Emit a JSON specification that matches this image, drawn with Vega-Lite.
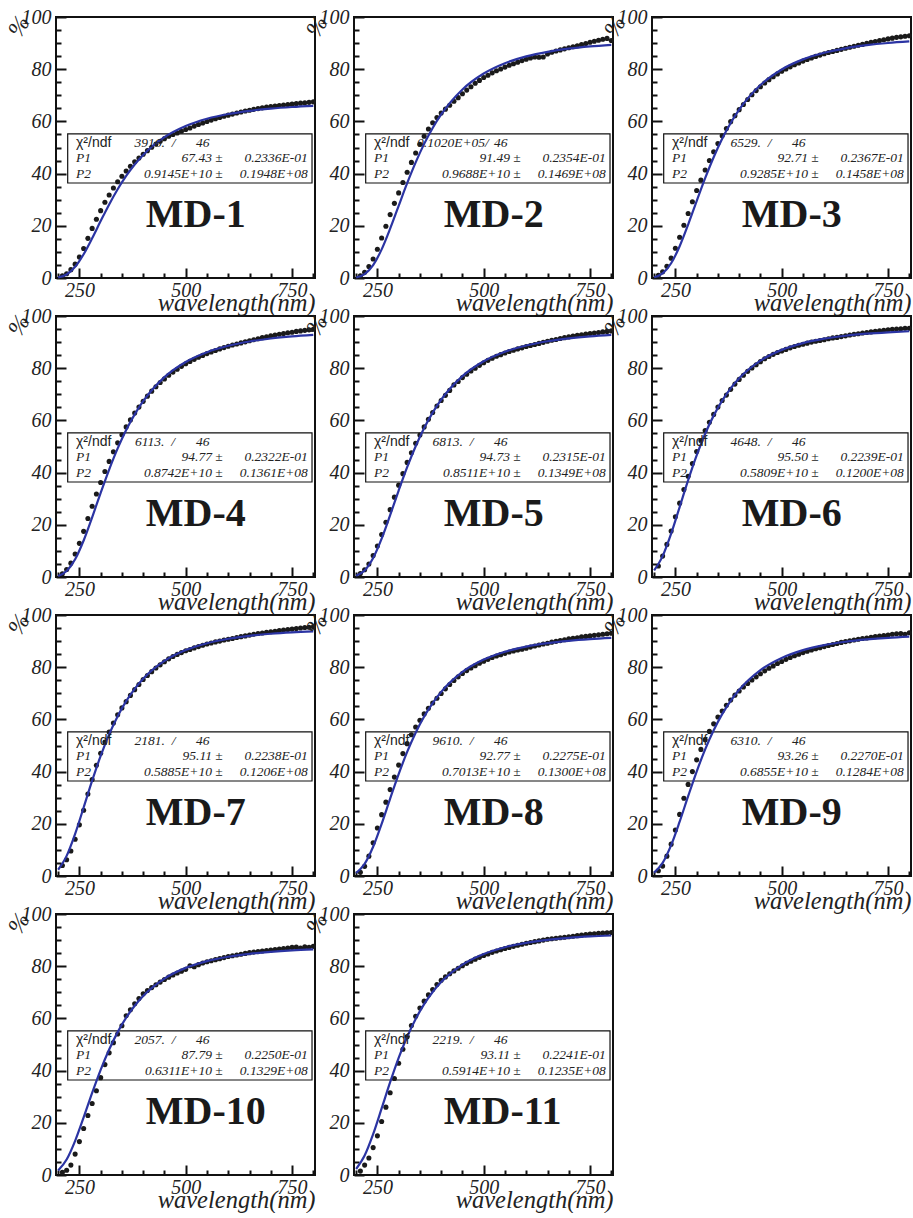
{
"$schema": "https://vega.github.io/schema/vega-lite/v6.json",
"background": "white",
"padding": {"left": 2, "top": 5, "right": 0, "bottom": 0},
"bounds": "flush",
"spacing": {"row": 38, "column": 39},
"columns": 3,
"config": {
  "view": {"stroke": "#111", "strokeWidth": 2},
  "header": {"labels": false, "title": null, "labelExpr": "''", "labelFontSize": 1, "labelPadding": 0, "titlePadding": 0},
  "axis": {"grid": false, "domain": false, "tickColor": "#111", "tickWidth": 2, "labelFont": "Liberation Serif", "labelFontStyle": "italic", "labelFontSize": 20, "labelColor": "#222", "titleColor": "#222", "labelFlush": false, "labelOverlap": false}
},
"data": {"values": [
{"m":"MD-1","k":"i","c":"3916.\u00a0\u00a0/","p1":"67.43 ±","e1":"0.2336E-01","p2":"0.9145E+10 ±","e2":"0.1948E+08"},
{"m":"MD-2","k":"i","c":"0.1020E+05/","p1":"91.49 ±","e1":"0.2354E-01","p2":"0.9688E+10 ±","e2":"0.1469E+08"},
{"m":"MD-3","k":"i","c":"6529.\u00a0\u00a0/","p1":"92.71 ±","e1":"0.2367E-01","p2":"0.9285E+10 ±","e2":"0.1458E+08"},
{"m":"MD-4","k":"i","c":"6113.\u00a0\u00a0/","p1":"94.77 ±","e1":"0.2322E-01","p2":"0.8742E+10 ±","e2":"0.1361E+08"},
{"m":"MD-5","k":"i","c":"6813.\u00a0\u00a0/","p1":"94.73 ±","e1":"0.2315E-01","p2":"0.8511E+10 ±","e2":"0.1349E+08"},
{"m":"MD-6","k":"i","c":"4648.\u00a0\u00a0/","p1":"95.50 ±","e1":"0.2239E-01","p2":"0.5809E+10 ±","e2":"0.1200E+08"},
{"m":"MD-7","k":"i","c":"2181.\u00a0\u00a0/","p1":"95.11 ±","e1":"0.2238E-01","p2":"0.5885E+10 ±","e2":"0.1206E+08"},
{"m":"MD-8","k":"i","c":"9610.\u00a0\u00a0/","p1":"92.77 ±","e1":"0.2275E-01","p2":"0.7013E+10 ±","e2":"0.1300E+08"},
{"m":"MD-9","k":"i","c":"6310.\u00a0\u00a0/","p1":"93.26 ±","e1":"0.2270E-01","p2":"0.6855E+10 ±","e2":"0.1284E+08"},
{"m":"MD-10","k":"i","c":"2057.\u00a0\u00a0/","p1":"87.79 ±","e1":"0.2250E-01","p2":"0.6311E+10 ±","e2":"0.1329E+08"},
{"m":"MD-11","k":"i","c":"2219.\u00a0\u00a0/","p1":"93.11 ±","e1":"0.2241E-01","p2":"0.5914E+10 ±","e2":"0.1235E+08"},

{"m":"MD-1","k":"f","w":200,"t":0.22},{"m":"MD-1","k":"f","w":220,"t":1.36},{"m":"MD-1","k":"f","w":240,"t":4.28},{"m":"MD-1","k":"f","w":260,"t":9.12},{"m":"MD-1","k":"f","w":280,"t":15.23},{"m":"MD-1","k":"f","w":300,"t":21.80},{"m":"MD-1","k":"f","w":320,"t":28.19},{"m":"MD-1","k":"f","w":340,"t":34.01},{"m":"MD-1","k":"f","w":360,"t":39.12},{"m":"MD-1","k":"f","w":380,"t":43.49},{"m":"MD-1","k":"f","w":400,"t":47.17},{"m":"MD-1","k":"f","w":450,"t":53.95},{"m":"MD-1","k":"f","w":500,"t":58.25},{"m":"MD-1","k":"f","w":550,"t":61.02},{"m":"MD-1","k":"f","w":600,"t":62.84},{"m":"MD-1","k":"f","w":650,"t":64.06},{"m":"MD-1","k":"f","w":700,"t":64.91},{"m":"MD-1","k":"f","w":750,"t":65.51},{"m":"MD-1","k":"f","w":800,"t":65.94},
{"m":"MD-2","k":"f","w":200,"t":0.21},{"m":"MD-2","k":"f","w":220,"t":1.46},{"m":"MD-2","k":"f","w":240,"t":4.93},{"m":"MD-2","k":"f","w":260,"t":10.98},{"m":"MD-2","k":"f","w":280,"t":18.92},{"m":"MD-2","k":"f","w":300,"t":27.66},{"m":"MD-2","k":"f","w":320,"t":36.32},{"m":"MD-2","k":"f","w":340,"t":44.31},{"m":"MD-2","k":"f","w":360,"t":51.39},{"m":"MD-2","k":"f","w":380,"t":57.49},{"m":"MD-2","k":"f","w":400,"t":62.66},{"m":"MD-2","k":"f","w":450,"t":72.24},{"m":"MD-2","k":"f","w":500,"t":78.35},{"m":"MD-2","k":"f","w":550,"t":82.30},{"m":"MD-2","k":"f","w":600,"t":84.90},{"m":"MD-2","k":"f","w":650,"t":86.66},{"m":"MD-2","k":"f","w":700,"t":87.87},{"m":"MD-2","k":"f","w":750,"t":88.73},{"m":"MD-2","k":"f","w":800,"t":89.35},
{"m":"MD-3","k":"f","w":200,"t":0.28},{"m":"MD-3","k":"f","w":220,"t":1.76},{"m":"MD-3","k":"f","w":240,"t":5.65},{"m":"MD-3","k":"f","w":260,"t":12.15},{"m":"MD-3","k":"f","w":280,"t":20.47},{"m":"MD-3","k":"f","w":300,"t":29.46},{"m":"MD-3","k":"f","w":320,"t":38.25},{"m":"MD-3","k":"f","w":340,"t":46.28},{"m":"MD-3","k":"f","w":360,"t":53.34},{"m":"MD-3","k":"f","w":380,"t":59.39},{"m":"MD-3","k":"f","w":400,"t":64.51},{"m":"MD-3","k":"f","w":450,"t":73.93},{"m":"MD-3","k":"f","w":500,"t":79.91},{"m":"MD-3","k":"f","w":550,"t":83.76},{"m":"MD-3","k":"f","w":600,"t":86.30},{"m":"MD-3","k":"f","w":650,"t":88.01},{"m":"MD-3","k":"f","w":700,"t":89.19},{"m":"MD-3","k":"f","w":750,"t":90.03},{"m":"MD-3","k":"f","w":800,"t":90.63},
{"m":"MD-4","k":"f","w":200,"t":0.40},{"m":"MD-4","k":"f","w":220,"t":2.27},{"m":"MD-4","k":"f","w":240,"t":6.80},{"m":"MD-4","k":"f","w":260,"t":13.99},{"m":"MD-4","k":"f","w":280,"t":22.86},{"m":"MD-4","k":"f","w":300,"t":32.21},{"m":"MD-4","k":"f","w":320,"t":41.17},{"m":"MD-4","k":"f","w":340,"t":49.27},{"m":"MD-4","k":"f","w":360,"t":56.32},{"m":"MD-4","k":"f","w":380,"t":62.32},{"m":"MD-4","k":"f","w":400,"t":67.35},{"m":"MD-4","k":"f","w":450,"t":76.58},{"m":"MD-4","k":"f","w":500,"t":82.40},{"m":"MD-4","k":"f","w":550,"t":86.14},{"m":"MD-4","k":"f","w":600,"t":88.59},{"m":"MD-4","k":"f","w":650,"t":90.24},{"m":"MD-4","k":"f","w":700,"t":91.38},{"m":"MD-4","k":"f","w":750,"t":92.19},{"m":"MD-4","k":"f","w":800,"t":92.77},
{"m":"MD-5","k":"f","w":200,"t":0.46},{"m":"MD-5","k":"f","w":220,"t":2.50},{"m":"MD-5","k":"f","w":240,"t":7.28},{"m":"MD-5","k":"f","w":260,"t":14.71},{"m":"MD-5","k":"f","w":280,"t":23.72},{"m":"MD-5","k":"f","w":300,"t":33.12},{"m":"MD-5","k":"f","w":320,"t":42.07},{"m":"MD-5","k":"f","w":340,"t":50.11},{"m":"MD-5","k":"f","w":360,"t":57.07},{"m":"MD-5","k":"f","w":380,"t":62.98},{"m":"MD-5","k":"f","w":400,"t":67.94},{"m":"MD-5","k":"f","w":450,"t":76.97},{"m":"MD-5","k":"f","w":500,"t":82.67},{"m":"MD-5","k":"f","w":550,"t":86.32},{"m":"MD-5","k":"f","w":600,"t":88.71},{"m":"MD-5","k":"f","w":650,"t":90.32},{"m":"MD-5","k":"f","w":700,"t":91.43},{"m":"MD-5","k":"f","w":750,"t":92.22},{"m":"MD-5","k":"f","w":800,"t":92.78},
{"m":"MD-6","k":"f","w":200,"t":2.53},{"m":"MD-6","k":"f","w":220,"t":8.00},{"m":"MD-6","k":"f","w":240,"t":16.58},{"m":"MD-6","k":"f","w":260,"t":26.79},{"m":"MD-6","k":"f","w":280,"t":37.12},{"m":"MD-6","k":"f","w":300,"t":46.62},{"m":"MD-6","k":"f","w":320,"t":54.88},{"m":"MD-6","k":"f","w":340,"t":61.83},{"m":"MD-6","k":"f","w":360,"t":67.58},{"m":"MD-6","k":"f","w":380,"t":72.28},{"m":"MD-6","k":"f","w":400,"t":76.11},{"m":"MD-6","k":"f","w":450,"t":82.89},{"m":"MD-6","k":"f","w":500,"t":87.02},{"m":"MD-6","k":"f","w":550,"t":89.63},{"m":"MD-6","k":"f","w":600,"t":91.31},{"m":"MD-6","k":"f","w":650,"t":92.44},{"m":"MD-6","k":"f","w":700,"t":93.22},{"m":"MD-6","k":"f","w":750,"t":93.76},{"m":"MD-6","k":"f","w":800,"t":94.16},
{"m":"MD-7","k":"f","w":200,"t":2.40},{"m":"MD-7","k":"f","w":220,"t":7.71},{"m":"MD-7","k":"f","w":240,"t":16.14},{"m":"MD-7","k":"f","w":260,"t":26.24},{"m":"MD-7","k":"f","w":280,"t":36.51},{"m":"MD-7","k":"f","w":300,"t":45.99},{"m":"MD-7","k":"f","w":320,"t":54.26},{"m":"MD-7","k":"f","w":340,"t":61.23},{"m":"MD-7","k":"f","w":360,"t":67.00},{"m":"MD-7","k":"f","w":380,"t":71.72},{"m":"MD-7","k":"f","w":400,"t":75.58},{"m":"MD-7","k":"f","w":450,"t":82.40},{"m":"MD-7","k":"f","w":500,"t":86.56},{"m":"MD-7","k":"f","w":550,"t":89.19},{"m":"MD-7","k":"f","w":600,"t":90.89},{"m":"MD-7","k":"f","w":650,"t":92.03},{"m":"MD-7","k":"f","w":700,"t":92.81},{"m":"MD-7","k":"f","w":750,"t":93.36},{"m":"MD-7","k":"f","w":800,"t":93.75},
{"m":"MD-8","k":"f","w":200,"t":1.16},{"m":"MD-8","k":"f","w":220,"t":4.65},{"m":"MD-8","k":"f","w":240,"t":11.20},{"m":"MD-8","k":"f","w":260,"t":19.99},{"m":"MD-8","k":"f","w":280,"t":29.64},{"m":"MD-8","k":"f","w":300,"t":39.03},{"m":"MD-8","k":"f","w":320,"t":47.53},{"m":"MD-8","k":"f","w":340,"t":54.89},{"m":"MD-8","k":"f","w":360,"t":61.11},{"m":"MD-8","k":"f","w":380,"t":66.27},{"m":"MD-8","k":"f","w":400,"t":70.54},{"m":"MD-8","k":"f","w":450,"t":78.19},{"m":"MD-8","k":"f","w":500,"t":82.92},{"m":"MD-8","k":"f","w":550,"t":85.93},{"m":"MD-8","k":"f","w":600,"t":87.88},{"m":"MD-8","k":"f","w":650,"t":89.20},{"m":"MD-8","k":"f","w":700,"t":90.10},{"m":"MD-8","k":"f","w":750,"t":90.74},{"m":"MD-8","k":"f","w":800,"t":91.20},
{"m":"MD-9","k":"f","w":200,"t":1.29},{"m":"MD-9","k":"f","w":220,"t":5.00},{"m":"MD-9","k":"f","w":240,"t":11.81},{"m":"MD-9","k":"f","w":260,"t":20.81},{"m":"MD-9","k":"f","w":280,"t":30.57},{"m":"MD-9","k":"f","w":300,"t":40.01},{"m":"MD-9","k":"f","w":320,"t":48.50},{"m":"MD-9","k":"f","w":340,"t":55.84},{"m":"MD-9","k":"f","w":360,"t":62.01},{"m":"MD-9","k":"f","w":380,"t":67.13},{"m":"MD-9","k":"f","w":400,"t":71.35},{"m":"MD-9","k":"f","w":450,"t":78.90},{"m":"MD-9","k":"f","w":500,"t":83.57},{"m":"MD-9","k":"f","w":550,"t":86.53},{"m":"MD-9","k":"f","w":600,"t":88.46},{"m":"MD-9","k":"f","w":650,"t":89.75},{"m":"MD-9","k":"f","w":700,"t":90.63},{"m":"MD-9","k":"f","w":750,"t":91.26},{"m":"MD-9","k":"f","w":800,"t":91.71},
{"m":"MD-10","k":"f","w":200,"t":1.70},{"m":"MD-10","k":"f","w":220,"t":5.94},{"m":"MD-10","k":"f","w":240,"t":13.10},{"m":"MD-10","k":"f","w":260,"t":22.06},{"m":"MD-10","k":"f","w":280,"t":31.45},{"m":"MD-10","k":"f","w":300,"t":40.28},{"m":"MD-10","k":"f","w":320,"t":48.09},{"m":"MD-10","k":"f","w":340,"t":54.74},{"m":"MD-10","k":"f","w":360,"t":60.29},{"m":"MD-10","k":"f","w":380,"t":64.86},{"m":"MD-10","k":"f","w":400,"t":68.61},{"m":"MD-10","k":"f","w":450,"t":75.27},{"m":"MD-10","k":"f","w":500,"t":79.36},{"m":"MD-10","k":"f","w":550,"t":81.94},{"m":"MD-10","k":"f","w":600,"t":83.62},{"m":"MD-10","k":"f","w":650,"t":84.74},{"m":"MD-10","k":"f","w":700,"t":85.51},{"m":"MD-10","k":"f","w":750,"t":86.06},{"m":"MD-10","k":"f","w":800,"t":86.45},
{"m":"MD-11","k":"f","w":200,"t":2.31},{"m":"MD-11","k":"f","w":220,"t":7.46},{"m":"MD-11","k":"f","w":240,"t":15.66},{"m":"MD-11","k":"f","w":260,"t":25.52},{"m":"MD-11","k":"f","w":280,"t":35.57},{"m":"MD-11","k":"f","w":300,"t":44.86},{"m":"MD-11","k":"f","w":320,"t":52.97},{"m":"MD-11","k":"f","w":340,"t":59.81},{"m":"MD-11","k":"f","w":360,"t":65.48},{"m":"MD-11","k":"f","w":380,"t":70.12},{"m":"MD-11","k":"f","w":400,"t":73.90},{"m":"MD-11","k":"f","w":450,"t":80.60},{"m":"MD-11","k":"f","w":500,"t":84.70},{"m":"MD-11","k":"f","w":550,"t":87.28},{"m":"MD-11","k":"f","w":600,"t":88.96},{"m":"MD-11","k":"f","w":650,"t":90.08},{"m":"MD-11","k":"f","w":700,"t":90.85},{"m":"MD-11","k":"f","w":750,"t":91.39},{"m":"MD-11","k":"f","w":800,"t":91.77},

{"m":"MD-1","k":"d","w":210,"t":0.8},{"m":"MD-1","k":"d","w":220,"t":1.6},{"m":"MD-1","k":"d","w":230,"t":3.2},{"m":"MD-1","k":"d","w":240,"t":5.3},{"m":"MD-1","k":"d","w":250,"t":8.0},{"m":"MD-1","k":"d","w":260,"t":11.3},{"m":"MD-1","k":"d","w":270,"t":15.2},{"m":"MD-1","k":"d","w":280,"t":19.0},{"m":"MD-1","k":"d","w":290,"t":22.5},{"m":"MD-1","k":"d","w":300,"t":25.8},
{"m":"MD-1","k":"d","w":310,"t":29.0},{"m":"MD-1","k":"d","w":320,"t":31.8},{"m":"MD-1","k":"d","w":330,"t":34.5},{"m":"MD-1","k":"d","w":340,"t":36.9},{"m":"MD-1","k":"d","w":350,"t":39.0},{"m":"MD-1","k":"d","w":360,"t":41.0},{"m":"MD-1","k":"d","w":370,"t":42.8},{"m":"MD-1","k":"d","w":380,"t":44.5},{"m":"MD-1","k":"d","w":390,"t":46.0},{"m":"MD-1","k":"d","w":400,"t":47.4},
{"m":"MD-1","k":"d","w":410,"t":48.8},{"m":"MD-1","k":"d","w":420,"t":50.1},{"m":"MD-1","k":"d","w":430,"t":51.3},{"m":"MD-1","k":"d","w":440,"t":52.4},{"m":"MD-1","k":"d","w":450,"t":53.4},{"m":"MD-1","k":"d","w":460,"t":54.3},{"m":"MD-1","k":"d","w":470,"t":55.0},{"m":"MD-1","k":"d","w":480,"t":55.6},{"m":"MD-1","k":"d","w":490,"t":56.2},{"m":"MD-1","k":"d","w":500,"t":56.9},
{"m":"MD-1","k":"d","w":510,"t":57.5},{"m":"MD-1","k":"d","w":520,"t":58.2},{"m":"MD-1","k":"d","w":530,"t":58.8},{"m":"MD-1","k":"d","w":540,"t":59.4},{"m":"MD-1","k":"d","w":550,"t":60.0},{"m":"MD-1","k":"d","w":560,"t":60.5},{"m":"MD-1","k":"d","w":570,"t":61.0},{"m":"MD-1","k":"d","w":580,"t":61.5},{"m":"MD-1","k":"d","w":590,"t":62.0},{"m":"MD-1","k":"d","w":600,"t":62.4},
{"m":"MD-1","k":"d","w":610,"t":62.8},{"m":"MD-1","k":"d","w":620,"t":63.2},{"m":"MD-1","k":"d","w":630,"t":63.6},{"m":"MD-1","k":"d","w":640,"t":64.0},{"m":"MD-1","k":"d","w":650,"t":64.3},{"m":"MD-1","k":"d","w":660,"t":64.6},{"m":"MD-1","k":"d","w":670,"t":64.9},{"m":"MD-1","k":"d","w":680,"t":65.2},{"m":"MD-1","k":"d","w":690,"t":65.5},{"m":"MD-1","k":"d","w":700,"t":65.7},
{"m":"MD-1","k":"d","w":710,"t":65.9},{"m":"MD-1","k":"d","w":720,"t":66.1},{"m":"MD-1","k":"d","w":730,"t":66.3},{"m":"MD-1","k":"d","w":740,"t":66.5},{"m":"MD-1","k":"d","w":750,"t":66.6},{"m":"MD-1","k":"d","w":760,"t":66.8},{"m":"MD-1","k":"d","w":770,"t":67.0},{"m":"MD-1","k":"d","w":780,"t":67.1},{"m":"MD-1","k":"d","w":790,"t":67.3},{"m":"MD-1","k":"d","w":800,"t":67.5},

{"m":"MD-2","k":"d","w":210,"t":0.8},{"m":"MD-2","k":"d","w":220,"t":2.2},{"m":"MD-2","k":"d","w":230,"t":4.4},{"m":"MD-2","k":"d","w":240,"t":7.3},{"m":"MD-2","k":"d","w":250,"t":11.0},{"m":"MD-2","k":"d","w":260,"t":15.3},{"m":"MD-2","k":"d","w":270,"t":19.8},{"m":"MD-2","k":"d","w":280,"t":24.3},{"m":"MD-2","k":"d","w":290,"t":28.6},{"m":"MD-2","k":"d","w":300,"t":32.6},
{"m":"MD-2","k":"d","w":310,"t":36.6},{"m":"MD-2","k":"d","w":320,"t":40.5},{"m":"MD-2","k":"d","w":330,"t":44.3},{"m":"MD-2","k":"d","w":340,"t":47.9},{"m":"MD-2","k":"d","w":350,"t":51.2},{"m":"MD-2","k":"d","w":360,"t":54.3},{"m":"MD-2","k":"d","w":370,"t":57.1},{"m":"MD-2","k":"d","w":380,"t":59.5},{"m":"MD-2","k":"d","w":390,"t":61.5},{"m":"MD-2","k":"d","w":400,"t":63.2},
{"m":"MD-2","k":"d","w":410,"t":64.7},{"m":"MD-2","k":"d","w":420,"t":66.2},{"m":"MD-2","k":"d","w":430,"t":67.7},{"m":"MD-2","k":"d","w":440,"t":69.1},{"m":"MD-2","k":"d","w":450,"t":70.6},{"m":"MD-2","k":"d","w":460,"t":72.0},{"m":"MD-2","k":"d","w":470,"t":73.3},{"m":"MD-2","k":"d","w":480,"t":74.6},{"m":"MD-2","k":"d","w":490,"t":75.7},{"m":"MD-2","k":"d","w":500,"t":76.8},
{"m":"MD-2","k":"d","w":510,"t":77.7},{"m":"MD-2","k":"d","w":520,"t":78.6},{"m":"MD-2","k":"d","w":530,"t":79.4},{"m":"MD-2","k":"d","w":540,"t":80.1},{"m":"MD-2","k":"d","w":550,"t":80.8},{"m":"MD-2","k":"d","w":560,"t":81.5},{"m":"MD-2","k":"d","w":570,"t":82.1},{"m":"MD-2","k":"d","w":580,"t":82.7},{"m":"MD-2","k":"d","w":590,"t":83.3},{"m":"MD-2","k":"d","w":600,"t":83.8},
{"m":"MD-2","k":"d","w":610,"t":84.3},{"m":"MD-2","k":"d","w":620,"t":84.7},{"m":"MD-2","k":"d","w":630,"t":84.6},{"m":"MD-2","k":"d","w":640,"t":84.7},{"m":"MD-2","k":"d","w":650,"t":85.8},{"m":"MD-2","k":"d","w":660,"t":86.5},{"m":"MD-2","k":"d","w":670,"t":87.0},{"m":"MD-2","k":"d","w":680,"t":87.4},{"m":"MD-2","k":"d","w":690,"t":87.8},{"m":"MD-2","k":"d","w":700,"t":88.2},
{"m":"MD-2","k":"d","w":710,"t":88.6},{"m":"MD-2","k":"d","w":720,"t":89.0},{"m":"MD-2","k":"d","w":730,"t":89.4},{"m":"MD-2","k":"d","w":740,"t":89.8},{"m":"MD-2","k":"d","w":750,"t":90.3},{"m":"MD-2","k":"d","w":760,"t":90.7},{"m":"MD-2","k":"d","w":770,"t":91.1},{"m":"MD-2","k":"d","w":780,"t":91.5},{"m":"MD-2","k":"d","w":790,"t":91.8},{"m":"MD-2","k":"d","w":800,"t":91.0},

{"m":"MD-3","k":"d","w":210,"t":1.0},{"m":"MD-3","k":"d","w":220,"t":2.4},{"m":"MD-3","k":"d","w":230,"t":4.5},{"m":"MD-3","k":"d","w":240,"t":7.6},{"m":"MD-3","k":"d","w":250,"t":11.4},{"m":"MD-3","k":"d","w":260,"t":15.6},{"m":"MD-3","k":"d","w":270,"t":20.2},{"m":"MD-3","k":"d","w":280,"t":24.7},{"m":"MD-3","k":"d","w":290,"t":29.2},{"m":"MD-3","k":"d","w":300,"t":33.5},
{"m":"MD-3","k":"d","w":310,"t":37.5},{"m":"MD-3","k":"d","w":320,"t":41.4},{"m":"MD-3","k":"d","w":330,"t":45.0},{"m":"MD-3","k":"d","w":340,"t":48.4},{"m":"MD-3","k":"d","w":350,"t":51.5},{"m":"MD-3","k":"d","w":360,"t":54.5},{"m":"MD-3","k":"d","w":370,"t":57.3},{"m":"MD-3","k":"d","w":380,"t":59.9},{"m":"MD-3","k":"d","w":390,"t":62.2},{"m":"MD-3","k":"d","w":400,"t":64.5},
{"m":"MD-3","k":"d","w":410,"t":66.5},{"m":"MD-3","k":"d","w":420,"t":68.4},{"m":"MD-3","k":"d","w":430,"t":70.2},{"m":"MD-3","k":"d","w":440,"t":71.8},{"m":"MD-3","k":"d","w":450,"t":73.3},{"m":"MD-3","k":"d","w":460,"t":74.7},{"m":"MD-3","k":"d","w":470,"t":76.0},{"m":"MD-3","k":"d","w":480,"t":77.1},{"m":"MD-3","k":"d","w":490,"t":78.2},{"m":"MD-3","k":"d","w":500,"t":79.2},
{"m":"MD-3","k":"d","w":510,"t":80.1},{"m":"MD-3","k":"d","w":520,"t":80.9},{"m":"MD-3","k":"d","w":530,"t":81.7},{"m":"MD-3","k":"d","w":540,"t":82.4},{"m":"MD-3","k":"d","w":550,"t":83.1},{"m":"MD-3","k":"d","w":560,"t":83.7},{"m":"MD-3","k":"d","w":570,"t":84.3},{"m":"MD-3","k":"d","w":580,"t":84.9},{"m":"MD-3","k":"d","w":590,"t":85.4},{"m":"MD-3","k":"d","w":600,"t":85.9},
{"m":"MD-3","k":"d","w":610,"t":86.4},{"m":"MD-3","k":"d","w":620,"t":86.8},{"m":"MD-3","k":"d","w":630,"t":87.2},{"m":"MD-3","k":"d","w":640,"t":87.6},{"m":"MD-3","k":"d","w":650,"t":88.0},{"m":"MD-3","k":"d","w":660,"t":88.4},{"m":"MD-3","k":"d","w":670,"t":88.8},{"m":"MD-3","k":"d","w":680,"t":89.2},{"m":"MD-3","k":"d","w":690,"t":89.5},{"m":"MD-3","k":"d","w":700,"t":89.9},
{"m":"MD-3","k":"d","w":710,"t":90.3},{"m":"MD-3","k":"d","w":720,"t":90.6},{"m":"MD-3","k":"d","w":730,"t":91.0},{"m":"MD-3","k":"d","w":740,"t":91.3},{"m":"MD-3","k":"d","w":750,"t":91.6},{"m":"MD-3","k":"d","w":760,"t":91.9},{"m":"MD-3","k":"d","w":770,"t":92.2},{"m":"MD-3","k":"d","w":780,"t":92.4},{"m":"MD-3","k":"d","w":790,"t":92.6},{"m":"MD-3","k":"d","w":800,"t":92.8},

{"m":"MD-4","k":"d","w":210,"t":1.2},{"m":"MD-4","k":"d","w":220,"t":2.9},{"m":"MD-4","k":"d","w":230,"t":5.3},{"m":"MD-4","k":"d","w":240,"t":8.8},{"m":"MD-4","k":"d","w":250,"t":12.9},{"m":"MD-4","k":"d","w":260,"t":17.5},{"m":"MD-4","k":"d","w":270,"t":22.4},{"m":"MD-4","k":"d","w":280,"t":27.1},{"m":"MD-4","k":"d","w":290,"t":31.8},{"m":"MD-4","k":"d","w":300,"t":36.2},
{"m":"MD-4","k":"d","w":310,"t":40.4},{"m":"MD-4","k":"d","w":320,"t":44.3},{"m":"MD-4","k":"d","w":330,"t":48.0},{"m":"MD-4","k":"d","w":340,"t":51.4},{"m":"MD-4","k":"d","w":350,"t":54.5},{"m":"MD-4","k":"d","w":360,"t":57.5},{"m":"MD-4","k":"d","w":370,"t":60.2},{"m":"MD-4","k":"d","w":380,"t":62.8},{"m":"MD-4","k":"d","w":390,"t":65.1},{"m":"MD-4","k":"d","w":400,"t":67.3},
{"m":"MD-4","k":"d","w":410,"t":69.3},{"m":"MD-4","k":"d","w":420,"t":71.2},{"m":"MD-4","k":"d","w":430,"t":72.9},{"m":"MD-4","k":"d","w":440,"t":74.5},{"m":"MD-4","k":"d","w":450,"t":75.9},{"m":"MD-4","k":"d","w":460,"t":77.3},{"m":"MD-4","k":"d","w":470,"t":78.5},{"m":"MD-4","k":"d","w":480,"t":79.6},{"m":"MD-4","k":"d","w":490,"t":80.7},{"m":"MD-4","k":"d","w":500,"t":81.7},
{"m":"MD-4","k":"d","w":510,"t":82.6},{"m":"MD-4","k":"d","w":520,"t":83.4},{"m":"MD-4","k":"d","w":530,"t":84.2},{"m":"MD-4","k":"d","w":540,"t":84.9},{"m":"MD-4","k":"d","w":550,"t":85.6},{"m":"MD-4","k":"d","w":560,"t":86.2},{"m":"MD-4","k":"d","w":570,"t":86.8},{"m":"MD-4","k":"d","w":580,"t":87.4},{"m":"MD-4","k":"d","w":590,"t":87.9},{"m":"MD-4","k":"d","w":600,"t":88.4},
{"m":"MD-4","k":"d","w":610,"t":88.9},{"m":"MD-4","k":"d","w":620,"t":89.3},{"m":"MD-4","k":"d","w":630,"t":89.7},{"m":"MD-4","k":"d","w":640,"t":90.1},{"m":"MD-4","k":"d","w":650,"t":90.5},{"m":"MD-4","k":"d","w":660,"t":90.9},{"m":"MD-4","k":"d","w":670,"t":91.3},{"m":"MD-4","k":"d","w":680,"t":91.7},{"m":"MD-4","k":"d","w":690,"t":92.0},{"m":"MD-4","k":"d","w":700,"t":92.4},
{"m":"MD-4","k":"d","w":710,"t":92.7},{"m":"MD-4","k":"d","w":720,"t":93.0},{"m":"MD-4","k":"d","w":730,"t":93.3},{"m":"MD-4","k":"d","w":740,"t":93.6},{"m":"MD-4","k":"d","w":750,"t":93.8},{"m":"MD-4","k":"d","w":760,"t":94.1},{"m":"MD-4","k":"d","w":770,"t":94.3},{"m":"MD-4","k":"d","w":780,"t":94.5},{"m":"MD-4","k":"d","w":790,"t":94.7},{"m":"MD-4","k":"d","w":800,"t":94.9},

{"m":"MD-5","k":"d","w":210,"t":1.3},{"m":"MD-5","k":"d","w":220,"t":2.8},{"m":"MD-5","k":"d","w":230,"t":5.0},{"m":"MD-5","k":"d","w":240,"t":8.2},{"m":"MD-5","k":"d","w":250,"t":11.9},{"m":"MD-5","k":"d","w":260,"t":16.3},{"m":"MD-5","k":"d","w":270,"t":21.0},{"m":"MD-5","k":"d","w":280,"t":25.8},{"m":"MD-5","k":"d","w":290,"t":30.6},{"m":"MD-5","k":"d","w":300,"t":35.2},
{"m":"MD-5","k":"d","w":310,"t":39.6},{"m":"MD-5","k":"d","w":320,"t":43.9},{"m":"MD-5","k":"d","w":330,"t":47.6},{"m":"MD-5","k":"d","w":340,"t":51.2},{"m":"MD-5","k":"d","w":350,"t":54.4},{"m":"MD-5","k":"d","w":360,"t":57.5},{"m":"MD-5","k":"d","w":370,"t":60.4},{"m":"MD-5","k":"d","w":380,"t":63.0},{"m":"MD-5","k":"d","w":390,"t":65.5},{"m":"MD-5","k":"d","w":400,"t":67.6},
{"m":"MD-5","k":"d","w":410,"t":69.6},{"m":"MD-5","k":"d","w":420,"t":71.5},{"m":"MD-5","k":"d","w":430,"t":73.6},{"m":"MD-5","k":"d","w":440,"t":74.9},{"m":"MD-5","k":"d","w":450,"t":76.4},{"m":"MD-5","k":"d","w":460,"t":77.7},{"m":"MD-5","k":"d","w":470,"t":78.9},{"m":"MD-5","k":"d","w":480,"t":80.0},{"m":"MD-5","k":"d","w":490,"t":81.1},{"m":"MD-5","k":"d","w":500,"t":82.1},
{"m":"MD-5","k":"d","w":510,"t":83.0},{"m":"MD-5","k":"d","w":520,"t":83.8},{"m":"MD-5","k":"d","w":530,"t":84.6},{"m":"MD-5","k":"d","w":540,"t":85.2},{"m":"MD-5","k":"d","w":550,"t":85.8},{"m":"MD-5","k":"d","w":560,"t":86.4},{"m":"MD-5","k":"d","w":570,"t":86.9},{"m":"MD-5","k":"d","w":580,"t":87.4},{"m":"MD-5","k":"d","w":590,"t":87.8},{"m":"MD-5","k":"d","w":600,"t":88.3},
{"m":"MD-5","k":"d","w":610,"t":88.7},{"m":"MD-5","k":"d","w":620,"t":89.1},{"m":"MD-5","k":"d","w":630,"t":89.5},{"m":"MD-5","k":"d","w":640,"t":89.9},{"m":"MD-5","k":"d","w":650,"t":90.3},{"m":"MD-5","k":"d","w":660,"t":90.7},{"m":"MD-5","k":"d","w":670,"t":91.0},{"m":"MD-5","k":"d","w":680,"t":91.4},{"m":"MD-5","k":"d","w":690,"t":91.7},{"m":"MD-5","k":"d","w":700,"t":92.0},
{"m":"MD-5","k":"d","w":710,"t":92.3},{"m":"MD-5","k":"d","w":720,"t":92.6},{"m":"MD-5","k":"d","w":730,"t":92.8},{"m":"MD-5","k":"d","w":740,"t":93.1},{"m":"MD-5","k":"d","w":750,"t":93.3},{"m":"MD-5","k":"d","w":760,"t":93.5},{"m":"MD-5","k":"d","w":770,"t":93.7},{"m":"MD-5","k":"d","w":780,"t":93.9},{"m":"MD-5","k":"d","w":790,"t":94.1},{"m":"MD-5","k":"d","w":800,"t":94.3},

{"m":"MD-6","k":"d","w":210,"t":4.2},{"m":"MD-6","k":"d","w":220,"t":8.0},{"m":"MD-6","k":"d","w":230,"t":12.5},{"m":"MD-6","k":"d","w":240,"t":17.6},{"m":"MD-6","k":"d","w":250,"t":23.1},{"m":"MD-6","k":"d","w":260,"t":28.3},{"m":"MD-6","k":"d","w":270,"t":33.5},{"m":"MD-6","k":"d","w":280,"t":38.6},{"m":"MD-6","k":"d","w":290,"t":43.5},{"m":"MD-6","k":"d","w":300,"t":48.1},
{"m":"MD-6","k":"d","w":310,"t":52.3},{"m":"MD-6","k":"d","w":320,"t":56.1},{"m":"MD-6","k":"d","w":330,"t":59.3},{"m":"MD-6","k":"d","w":340,"t":62.3},{"m":"MD-6","k":"d","w":350,"t":65.1},{"m":"MD-6","k":"d","w":360,"t":67.6},{"m":"MD-6","k":"d","w":370,"t":69.7},{"m":"MD-6","k":"d","w":380,"t":71.9},{"m":"MD-6","k":"d","w":390,"t":73.9},{"m":"MD-6","k":"d","w":400,"t":75.7},
{"m":"MD-6","k":"d","w":410,"t":77.3},{"m":"MD-6","k":"d","w":420,"t":78.8},{"m":"MD-6","k":"d","w":430,"t":80.1},{"m":"MD-6","k":"d","w":440,"t":81.3},{"m":"MD-6","k":"d","w":450,"t":82.5},{"m":"MD-6","k":"d","w":460,"t":83.6},{"m":"MD-6","k":"d","w":470,"t":84.5},{"m":"MD-6","k":"d","w":480,"t":85.3},{"m":"MD-6","k":"d","w":490,"t":86.0},{"m":"MD-6","k":"d","w":500,"t":86.6},
{"m":"MD-6","k":"d","w":510,"t":87.2},{"m":"MD-6","k":"d","w":520,"t":87.8},{"m":"MD-6","k":"d","w":530,"t":88.3},{"m":"MD-6","k":"d","w":540,"t":88.8},{"m":"MD-6","k":"d","w":550,"t":89.2},{"m":"MD-6","k":"d","w":560,"t":89.6},{"m":"MD-6","k":"d","w":570,"t":90.0},{"m":"MD-6","k":"d","w":580,"t":90.3},{"m":"MD-6","k":"d","w":590,"t":90.6},{"m":"MD-6","k":"d","w":600,"t":90.9},
{"m":"MD-6","k":"d","w":610,"t":91.3},{"m":"MD-6","k":"d","w":620,"t":91.6},{"m":"MD-6","k":"d","w":630,"t":91.8},{"m":"MD-6","k":"d","w":640,"t":92.1},{"m":"MD-6","k":"d","w":650,"t":92.4},{"m":"MD-6","k":"d","w":660,"t":92.7},{"m":"MD-6","k":"d","w":670,"t":93.0},{"m":"MD-6","k":"d","w":680,"t":93.2},{"m":"MD-6","k":"d","w":690,"t":93.5},{"m":"MD-6","k":"d","w":700,"t":93.7},
{"m":"MD-6","k":"d","w":710,"t":93.9},{"m":"MD-6","k":"d","w":720,"t":94.1},{"m":"MD-6","k":"d","w":730,"t":94.3},{"m":"MD-6","k":"d","w":740,"t":94.5},{"m":"MD-6","k":"d","w":750,"t":94.7},{"m":"MD-6","k":"d","w":760,"t":94.9},{"m":"MD-6","k":"d","w":770,"t":95.0},{"m":"MD-6","k":"d","w":780,"t":95.1},{"m":"MD-6","k":"d","w":790,"t":95.3},{"m":"MD-6","k":"d","w":800,"t":95.3},

{"m":"MD-7","k":"d","w":210,"t":4.0},{"m":"MD-7","k":"d","w":220,"t":6.2},{"m":"MD-7","k":"d","w":230,"t":9.6},{"m":"MD-7","k":"d","w":240,"t":14.1},{"m":"MD-7","k":"d","w":250,"t":19.6},{"m":"MD-7","k":"d","w":260,"t":25.2},{"m":"MD-7","k":"d","w":270,"t":31.4},{"m":"MD-7","k":"d","w":280,"t":37.0},{"m":"MD-7","k":"d","w":290,"t":42.4},{"m":"MD-7","k":"d","w":300,"t":47.0},
{"m":"MD-7","k":"d","w":310,"t":51.3},{"m":"MD-7","k":"d","w":320,"t":55.2},{"m":"MD-7","k":"d","w":330,"t":58.6},{"m":"MD-7","k":"d","w":340,"t":61.8},{"m":"MD-7","k":"d","w":350,"t":64.4},{"m":"MD-7","k":"d","w":360,"t":66.8},{"m":"MD-7","k":"d","w":370,"t":69.2},{"m":"MD-7","k":"d","w":380,"t":71.4},{"m":"MD-7","k":"d","w":390,"t":73.4},{"m":"MD-7","k":"d","w":400,"t":75.3},
{"m":"MD-7","k":"d","w":410,"t":76.8},{"m":"MD-7","k":"d","w":420,"t":78.3},{"m":"MD-7","k":"d","w":430,"t":79.7},{"m":"MD-7","k":"d","w":440,"t":80.9},{"m":"MD-7","k":"d","w":450,"t":82.1},{"m":"MD-7","k":"d","w":460,"t":83.2},{"m":"MD-7","k":"d","w":470,"t":84.1},{"m":"MD-7","k":"d","w":480,"t":84.9},{"m":"MD-7","k":"d","w":490,"t":85.6},{"m":"MD-7","k":"d","w":500,"t":86.3},
{"m":"MD-7","k":"d","w":510,"t":86.8},{"m":"MD-7","k":"d","w":520,"t":87.4},{"m":"MD-7","k":"d","w":530,"t":87.9},{"m":"MD-7","k":"d","w":540,"t":88.4},{"m":"MD-7","k":"d","w":550,"t":88.9},{"m":"MD-7","k":"d","w":560,"t":89.3},{"m":"MD-7","k":"d","w":570,"t":89.7},{"m":"MD-7","k":"d","w":580,"t":90.0},{"m":"MD-7","k":"d","w":590,"t":90.4},{"m":"MD-7","k":"d","w":600,"t":90.7},
{"m":"MD-7","k":"d","w":610,"t":91.0},{"m":"MD-7","k":"d","w":620,"t":91.4},{"m":"MD-7","k":"d","w":630,"t":91.7},{"m":"MD-7","k":"d","w":640,"t":92.0},{"m":"MD-7","k":"d","w":650,"t":92.3},{"m":"MD-7","k":"d","w":660,"t":92.6},{"m":"MD-7","k":"d","w":670,"t":92.9},{"m":"MD-7","k":"d","w":680,"t":93.1},{"m":"MD-7","k":"d","w":690,"t":93.4},{"m":"MD-7","k":"d","w":700,"t":93.6},
{"m":"MD-7","k":"d","w":710,"t":93.8},{"m":"MD-7","k":"d","w":720,"t":94.0},{"m":"MD-7","k":"d","w":730,"t":94.2},{"m":"MD-7","k":"d","w":740,"t":94.4},{"m":"MD-7","k":"d","w":750,"t":94.6},{"m":"MD-7","k":"d","w":760,"t":94.8},{"m":"MD-7","k":"d","w":770,"t":95.0},{"m":"MD-7","k":"d","w":780,"t":95.2},{"m":"MD-7","k":"d","w":790,"t":95.3},{"m":"MD-7","k":"d","w":800,"t":95.5},

{"m":"MD-8","k":"d","w":210,"t":1.4},{"m":"MD-8","k":"d","w":220,"t":3.7},{"m":"MD-8","k":"d","w":230,"t":7.6},{"m":"MD-8","k":"d","w":240,"t":12.7},{"m":"MD-8","k":"d","w":250,"t":18.4},{"m":"MD-8","k":"d","w":260,"t":23.5},{"m":"MD-8","k":"d","w":270,"t":28.3},{"m":"MD-8","k":"d","w":280,"t":33.1},{"m":"MD-8","k":"d","w":290,"t":37.9},{"m":"MD-8","k":"d","w":300,"t":42.5},
{"m":"MD-8","k":"d","w":310,"t":46.9},{"m":"MD-8","k":"d","w":320,"t":50.7},{"m":"MD-8","k":"d","w":330,"t":54.1},{"m":"MD-8","k":"d","w":340,"t":57.1},{"m":"MD-8","k":"d","w":350,"t":59.7},{"m":"MD-8","k":"d","w":360,"t":62.1},{"m":"MD-8","k":"d","w":370,"t":64.3},{"m":"MD-8","k":"d","w":380,"t":66.3},{"m":"MD-8","k":"d","w":390,"t":68.1},{"m":"MD-8","k":"d","w":400,"t":69.9},
{"m":"MD-8","k":"d","w":410,"t":71.7},{"m":"MD-8","k":"d","w":420,"t":73.4},{"m":"MD-8","k":"d","w":430,"t":74.9},{"m":"MD-8","k":"d","w":440,"t":76.3},{"m":"MD-8","k":"d","w":450,"t":77.6},{"m":"MD-8","k":"d","w":460,"t":78.7},{"m":"MD-8","k":"d","w":470,"t":79.7},{"m":"MD-8","k":"d","w":480,"t":80.6},{"m":"MD-8","k":"d","w":490,"t":81.5},{"m":"MD-8","k":"d","w":500,"t":82.3},
{"m":"MD-8","k":"d","w":510,"t":83.0},{"m":"MD-8","k":"d","w":520,"t":83.7},{"m":"MD-8","k":"d","w":530,"t":84.3},{"m":"MD-8","k":"d","w":540,"t":84.8},{"m":"MD-8","k":"d","w":550,"t":85.3},{"m":"MD-8","k":"d","w":560,"t":85.8},{"m":"MD-8","k":"d","w":570,"t":86.2},{"m":"MD-8","k":"d","w":580,"t":86.6},{"m":"MD-8","k":"d","w":590,"t":86.9},{"m":"MD-8","k":"d","w":600,"t":87.3},
{"m":"MD-8","k":"d","w":610,"t":87.7},{"m":"MD-8","k":"d","w":620,"t":88.1},{"m":"MD-8","k":"d","w":630,"t":88.5},{"m":"MD-8","k":"d","w":640,"t":88.9},{"m":"MD-8","k":"d","w":650,"t":89.2},{"m":"MD-8","k":"d","w":660,"t":89.6},{"m":"MD-8","k":"d","w":670,"t":89.9},{"m":"MD-8","k":"d","w":680,"t":90.2},{"m":"MD-8","k":"d","w":690,"t":90.5},{"m":"MD-8","k":"d","w":700,"t":90.9},
{"m":"MD-8","k":"d","w":710,"t":91.1},{"m":"MD-8","k":"d","w":720,"t":91.3},{"m":"MD-8","k":"d","w":730,"t":91.6},{"m":"MD-8","k":"d","w":740,"t":91.8},{"m":"MD-8","k":"d","w":750,"t":92.0},{"m":"MD-8","k":"d","w":760,"t":92.2},{"m":"MD-8","k":"d","w":770,"t":92.4},{"m":"MD-8","k":"d","w":780,"t":92.6},{"m":"MD-8","k":"d","w":790,"t":92.8},{"m":"MD-8","k":"d","w":800,"t":93.0},

{"m":"MD-9","k":"d","w":210,"t":2.0},{"m":"MD-9","k":"d","w":220,"t":3.8},{"m":"MD-9","k":"d","w":230,"t":7.6},{"m":"MD-9","k":"d","w":240,"t":12.2},{"m":"MD-9","k":"d","w":250,"t":17.6},{"m":"MD-9","k":"d","w":260,"t":23.6},{"m":"MD-9","k":"d","w":270,"t":29.8},{"m":"MD-9","k":"d","w":280,"t":35.1},{"m":"MD-9","k":"d","w":290,"t":40.0},{"m":"MD-9","k":"d","w":300,"t":44.5},
{"m":"MD-9","k":"d","w":310,"t":48.5},{"m":"MD-9","k":"d","w":320,"t":52.2},{"m":"MD-9","k":"d","w":330,"t":55.4},{"m":"MD-9","k":"d","w":340,"t":58.3},{"m":"MD-9","k":"d","w":350,"t":60.9},{"m":"MD-9","k":"d","w":360,"t":63.2},{"m":"MD-9","k":"d","w":370,"t":65.4},{"m":"MD-9","k":"d","w":380,"t":67.4},{"m":"MD-9","k":"d","w":390,"t":69.3},{"m":"MD-9","k":"d","w":400,"t":70.9},
{"m":"MD-9","k":"d","w":410,"t":72.4},{"m":"MD-9","k":"d","w":420,"t":73.8},{"m":"MD-9","k":"d","w":430,"t":75.1},{"m":"MD-9","k":"d","w":440,"t":76.3},{"m":"MD-9","k":"d","w":450,"t":77.5},{"m":"MD-9","k":"d","w":460,"t":78.6},{"m":"MD-9","k":"d","w":470,"t":79.6},{"m":"MD-9","k":"d","w":480,"t":80.5},{"m":"MD-9","k":"d","w":490,"t":81.4},{"m":"MD-9","k":"d","w":500,"t":82.2},
{"m":"MD-9","k":"d","w":510,"t":83.0},{"m":"MD-9","k":"d","w":520,"t":83.7},{"m":"MD-9","k":"d","w":530,"t":84.4},{"m":"MD-9","k":"d","w":540,"t":85.0},{"m":"MD-9","k":"d","w":550,"t":85.6},{"m":"MD-9","k":"d","w":560,"t":86.1},{"m":"MD-9","k":"d","w":570,"t":86.6},{"m":"MD-9","k":"d","w":580,"t":87.1},{"m":"MD-9","k":"d","w":590,"t":87.5},{"m":"MD-9","k":"d","w":600,"t":87.9},
{"m":"MD-9","k":"d","w":610,"t":88.3},{"m":"MD-9","k":"d","w":620,"t":88.7},{"m":"MD-9","k":"d","w":630,"t":89.1},{"m":"MD-9","k":"d","w":640,"t":89.5},{"m":"MD-9","k":"d","w":650,"t":89.8},{"m":"MD-9","k":"d","w":660,"t":90.1},{"m":"MD-9","k":"d","w":670,"t":90.4},{"m":"MD-9","k":"d","w":680,"t":90.7},{"m":"MD-9","k":"d","w":690,"t":91.0},{"m":"MD-9","k":"d","w":700,"t":91.2},
{"m":"MD-9","k":"d","w":710,"t":91.5},{"m":"MD-9","k":"d","w":720,"t":91.7},{"m":"MD-9","k":"d","w":730,"t":91.9},{"m":"MD-9","k":"d","w":740,"t":92.1},{"m":"MD-9","k":"d","w":750,"t":92.3},{"m":"MD-9","k":"d","w":760,"t":92.6},{"m":"MD-9","k":"d","w":770,"t":92.8},{"m":"MD-9","k":"d","w":780,"t":92.9},{"m":"MD-9","k":"d","w":790,"t":92.6},{"m":"MD-9","k":"d","w":800,"t":93.2},

{"m":"MD-10","k":"d","w":210,"t":1.0},{"m":"MD-10","k":"d","w":220,"t":1.8},{"m":"MD-10","k":"d","w":230,"t":3.8},{"m":"MD-10","k":"d","w":240,"t":8.0},{"m":"MD-10","k":"d","w":250,"t":12.8},{"m":"MD-10","k":"d","w":260,"t":17.8},{"m":"MD-10","k":"d","w":270,"t":22.8},{"m":"MD-10","k":"d","w":280,"t":27.4},{"m":"MD-10","k":"d","w":290,"t":32.3},{"m":"MD-10","k":"d","w":300,"t":37.3},
{"m":"MD-10","k":"d","w":310,"t":42.3},{"m":"MD-10","k":"d","w":320,"t":46.8},{"m":"MD-10","k":"d","w":330,"t":50.7},{"m":"MD-10","k":"d","w":340,"t":54.0},{"m":"MD-10","k":"d","w":350,"t":57.2},{"m":"MD-10","k":"d","w":360,"t":61.0},{"m":"MD-10","k":"d","w":370,"t":63.3},{"m":"MD-10","k":"d","w":380,"t":65.6},{"m":"MD-10","k":"d","w":390,"t":67.6},{"m":"MD-10","k":"d","w":400,"t":69.4},
{"m":"MD-10","k":"d","w":410,"t":70.7},{"m":"MD-10","k":"d","w":420,"t":71.8},{"m":"MD-10","k":"d","w":430,"t":72.9},{"m":"MD-10","k":"d","w":440,"t":73.9},{"m":"MD-10","k":"d","w":450,"t":74.9},{"m":"MD-10","k":"d","w":460,"t":75.8},{"m":"MD-10","k":"d","w":470,"t":76.6},{"m":"MD-10","k":"d","w":480,"t":77.4},{"m":"MD-10","k":"d","w":490,"t":78.1},{"m":"MD-10","k":"d","w":500,"t":78.8},
{"m":"MD-10","k":"d","w":510,"t":80.2},{"m":"MD-10","k":"d","w":520,"t":79.8},{"m":"MD-10","k":"d","w":530,"t":80.6},{"m":"MD-10","k":"d","w":540,"t":81.2},{"m":"MD-10","k":"d","w":550,"t":81.7},{"m":"MD-10","k":"d","w":560,"t":82.1},{"m":"MD-10","k":"d","w":570,"t":82.5},{"m":"MD-10","k":"d","w":580,"t":82.9},{"m":"MD-10","k":"d","w":590,"t":83.3},{"m":"MD-10","k":"d","w":600,"t":83.7},
{"m":"MD-10","k":"d","w":610,"t":84.0},{"m":"MD-10","k":"d","w":620,"t":84.3},{"m":"MD-10","k":"d","w":630,"t":84.6},{"m":"MD-10","k":"d","w":640,"t":84.9},{"m":"MD-10","k":"d","w":650,"t":85.2},{"m":"MD-10","k":"d","w":660,"t":85.4},{"m":"MD-10","k":"d","w":670,"t":85.6},{"m":"MD-10","k":"d","w":680,"t":85.8},{"m":"MD-10","k":"d","w":690,"t":86.0},{"m":"MD-10","k":"d","w":700,"t":86.2},
{"m":"MD-10","k":"d","w":710,"t":86.4},{"m":"MD-10","k":"d","w":720,"t":86.6},{"m":"MD-10","k":"d","w":730,"t":86.8},{"m":"MD-10","k":"d","w":740,"t":87.0},{"m":"MD-10","k":"d","w":750,"t":87.2},{"m":"MD-10","k":"d","w":760,"t":87.3},{"m":"MD-10","k":"d","w":770,"t":87.0},{"m":"MD-10","k":"d","w":780,"t":87.4},{"m":"MD-10","k":"d","w":790,"t":87.2},{"m":"MD-10","k":"d","w":800,"t":87.6},

{"m":"MD-11","k":"d","w":210,"t":1.5},{"m":"MD-11","k":"d","w":220,"t":3.8},{"m":"MD-11","k":"d","w":230,"t":6.5},{"m":"MD-11","k":"d","w":240,"t":10.5},{"m":"MD-11","k":"d","w":250,"t":15.0},{"m":"MD-11","k":"d","w":260,"t":20.5},{"m":"MD-11","k":"d","w":270,"t":26.0},{"m":"MD-11","k":"d","w":280,"t":31.5},{"m":"MD-11","k":"d","w":290,"t":37.0},{"m":"MD-11","k":"d","w":300,"t":42.8},
{"m":"MD-11","k":"d","w":310,"t":48.2},{"m":"MD-11","k":"d","w":320,"t":53.0},{"m":"MD-11","k":"d","w":330,"t":57.3},{"m":"MD-11","k":"d","w":340,"t":60.8},{"m":"MD-11","k":"d","w":350,"t":64.0},{"m":"MD-11","k":"d","w":360,"t":66.6},{"m":"MD-11","k":"d","w":370,"t":69.0},{"m":"MD-11","k":"d","w":380,"t":71.1},{"m":"MD-11","k":"d","w":390,"t":73.0},{"m":"MD-11","k":"d","w":400,"t":74.6},
{"m":"MD-11","k":"d","w":410,"t":75.9},{"m":"MD-11","k":"d","w":420,"t":77.1},{"m":"MD-11","k":"d","w":430,"t":78.2},{"m":"MD-11","k":"d","w":440,"t":79.2},{"m":"MD-11","k":"d","w":450,"t":80.2},{"m":"MD-11","k":"d","w":460,"t":81.1},{"m":"MD-11","k":"d","w":470,"t":81.9},{"m":"MD-11","k":"d","w":480,"t":82.7},{"m":"MD-11","k":"d","w":490,"t":83.4},{"m":"MD-11","k":"d","w":500,"t":84.1},
{"m":"MD-11","k":"d","w":510,"t":84.7},{"m":"MD-11","k":"d","w":520,"t":85.3},{"m":"MD-11","k":"d","w":530,"t":85.8},{"m":"MD-11","k":"d","w":540,"t":86.3},{"m":"MD-11","k":"d","w":550,"t":86.8},{"m":"MD-11","k":"d","w":560,"t":87.2},{"m":"MD-11","k":"d","w":570,"t":87.6},{"m":"MD-11","k":"d","w":580,"t":88.0},{"m":"MD-11","k":"d","w":590,"t":88.4},{"m":"MD-11","k":"d","w":600,"t":88.8},
{"m":"MD-11","k":"d","w":610,"t":89.1},{"m":"MD-11","k":"d","w":620,"t":89.4},{"m":"MD-11","k":"d","w":630,"t":89.7},{"m":"MD-11","k":"d","w":640,"t":90.0},{"m":"MD-11","k":"d","w":650,"t":90.3},{"m":"MD-11","k":"d","w":660,"t":90.5},{"m":"MD-11","k":"d","w":670,"t":90.7},{"m":"MD-11","k":"d","w":680,"t":90.9},{"m":"MD-11","k":"d","w":690,"t":91.1},{"m":"MD-11","k":"d","w":700,"t":91.3},
{"m":"MD-11","k":"d","w":710,"t":91.5},{"m":"MD-11","k":"d","w":720,"t":91.7},{"m":"MD-11","k":"d","w":730,"t":91.9},{"m":"MD-11","k":"d","w":740,"t":92.1},{"m":"MD-11","k":"d","w":750,"t":92.3},{"m":"MD-11","k":"d","w":760,"t":92.4},{"m":"MD-11","k":"d","w":770,"t":92.6},{"m":"MD-11","k":"d","w":780,"t":92.7},{"m":"MD-11","k":"d","w":790,"t":92.8},{"m":"MD-11","k":"d","w":800,"t":92.9}
]},
"facet": {"field": "m", "type": "nominal", "sort": ["MD-1","MD-2","MD-3","MD-4","MD-5","MD-6","MD-7","MD-8","MD-9","MD-10","MD-11"], "header": {"title": null, "labels": false, "labelExpr": "''", "labelFontSize": 1, "labelPadding": 0}},
"resolve": {"scale": {"x": "independent", "y": "independent"}},
"spec": {
  "width": 259,
  "height": 261,
  "resolve": {"axis": {"x": "independent", "y": "independent"}},
  "layer": [
    {"transform": [{"filter": "datum.k === 'i'"}],
     "mark": {"type": "rect", "fill": "white", "fillOpacity": 0, "stroke": "#111", "strokeWidth": 1.2},
     "encoding": {
       "x": {"datum": 222.5, "type": "quantitative", "scale": {"domain": [195, 804], "nice": false, "zero": false}, "axis": null},
       "x2": {"datum": 797},
       "y": {"datum": 55.2, "type": "quantitative", "scale": {"domain": [0, 100], "nice": false}, "axis": null},
       "y2": {"datum": 36.4}}},
    {"transform": [{"filter": "datum.k === 'd'"}],
     "mark": {"type": "circle", "size": 26, "color": "#1a1a1a", "opacity": 1},
     "encoding": {
       "x": {"field": "w", "type": "quantitative", "scale": {"domain": [195, 804], "nice": false, "zero": false},
             "axis": {"orient": "bottom", "values": [250, 500, 750], "tickSize": -10, "labelPadding": 12, "labelAlign": "center", "labelBaseline": "top", "labelDx": 3,
                      "labelFont": "Liberation Serif", "labelFontStyle": "italic", "labelFontSize": 20,
                      "title": "wavelength(nm)", "titleFont": "Liberation Serif", "titleFontStyle": "italic", "titleFontWeight": "normal", "titleFontSize": 24.5,
                      "titleAnchor": "end", "titleAlign": "right", "titleX": 259, "titleY": 32, "titleBaseline": "alphabetic"}},
       "y": {"field": "t", "type": "quantitative", "scale": {"domain": [0, 100], "nice": false},
             "axis": {"orient": "left", "values": [0, 20, 40, 60, 80, 100], "tickSize": -10, "labelPadding": 15, "labelAlign": "right", "labelBaseline": "middle",
                      "labelFont": "Liberation Serif", "labelFontStyle": "italic", "labelFontSize": 20,
                      "title": "%", "titleFont": "Liberation Serif", "titleFontStyle": "italic", "titleFontWeight": "normal", "titleFontSize": 24,
                      "titleAngle": 300, "titleX": -37, "titleY": 9, "titleAlign": "center", "titleBaseline": "middle"}}}},
    {"transform": [{"filter": "datum.k === 'f'"}],
     "mark": {"type": "line", "color": "#2b34a3", "strokeWidth": 2.2, "interpolate": "monotone"},
     "encoding": {
       "x": {"field": "w", "type": "quantitative", "scale": {"domain": [195, 804], "nice": false, "zero": false},
             "axis": {"orient": "bottom", "values": [200, 300, 350, 400, 450, 550, 600, 650, 700, 800], "tickSize": -5, "labels": false, "title": null}},
       "y": {"field": "t", "type": "quantitative", "scale": {"domain": [0, 100], "nice": false},
             "axis": {"orient": "left", "values": [5, 10, 15, 25, 30, 35, 45, 50, 55, 65, 70, 75, 85, 90, 95], "tickSize": -5, "labels": false, "title": null}}}},
    {"transform": [{"filter": "datum.k === 'i'"}],
     "mark": {"type": "text", "font": "Liberation Serif", "fontWeight": "bold", "fontSize": 40, "align": "left", "baseline": "alphabetic", "color": "#1a1a1a"},
     "encoding": {"x": {"datum": 406, "type": "quantitative", "axis": null}, "y": {"datum": 19.6, "type": "quantitative", "axis": null}, "text": {"field": "m"}}},
    {"transform": [{"filter": "datum.k === 'i'"}],
     "mark": {"type": "text", "text": "χ²/ndf", "font": "Liberation Sans", "fontSize": 14, "align": "left", "baseline": "middle", "color": "#222"},
     "encoding": {"x": {"datum": 242, "type": "quantitative", "axis": null}, "y": {"datum": 51.7, "type": "quantitative", "axis": null}}},
    {"transform": [{"filter": "datum.k === 'i'"}],
     "mark": {"type": "text", "font": "Liberation Serif", "fontStyle": "italic", "fontSize": 13.5, "align": "center", "baseline": "middle", "color": "#222"},
     "encoding": {"x": {"datum": 427.7, "type": "quantitative", "axis": null}, "y": {"datum": 51.7, "type": "quantitative", "axis": null}, "text": {"field": "c"}}},
    {"transform": [{"filter": "datum.k === 'i'"}],
     "mark": {"type": "text", "text": "46", "font": "Liberation Serif", "fontStyle": "italic", "fontSize": 13.5, "align": "left", "baseline": "middle", "color": "#222"},
     "encoding": {"x": {"datum": 524, "type": "quantitative", "axis": null}, "y": {"datum": 51.7, "type": "quantitative", "axis": null}}},
    {"transform": [{"filter": "datum.k === 'i'"}],
     "mark": {"type": "text", "text": "P1", "font": "Liberation Serif", "fontStyle": "italic", "fontSize": 13.5, "align": "left", "baseline": "middle", "color": "#222"},
     "encoding": {"x": {"datum": 242, "type": "quantitative", "axis": null}, "y": {"datum": 45.8, "type": "quantitative", "axis": null}}},
    {"transform": [{"filter": "datum.k === 'i'"}],
     "mark": {"type": "text", "text": "P2", "font": "Liberation Serif", "fontStyle": "italic", "fontSize": 13.5, "align": "left", "baseline": "middle", "color": "#222"},
     "encoding": {"x": {"datum": 242, "type": "quantitative", "axis": null}, "y": {"datum": 40.0, "type": "quantitative", "axis": null}}},
    {"transform": [{"filter": "datum.k === 'i'"}],
     "mark": {"type": "text", "font": "Liberation Serif", "fontStyle": "italic", "fontSize": 13.5, "align": "right", "baseline": "middle", "color": "#222"},
     "encoding": {"x": {"datum": 587, "type": "quantitative", "axis": null}, "y": {"datum": 45.8, "type": "quantitative", "axis": null}, "text": {"field": "p1"}}},
    {"transform": [{"filter": "datum.k === 'i'"}],
     "mark": {"type": "text", "font": "Liberation Serif", "fontStyle": "italic", "fontSize": 13.5, "align": "right", "baseline": "middle", "color": "#222"},
     "encoding": {"x": {"datum": 787, "type": "quantitative", "axis": null}, "y": {"datum": 45.8, "type": "quantitative", "axis": null}, "text": {"field": "e1"}}},
    {"transform": [{"filter": "datum.k === 'i'"}],
     "mark": {"type": "text", "font": "Liberation Serif", "fontStyle": "italic", "fontSize": 13.5, "align": "right", "baseline": "middle", "color": "#222"},
     "encoding": {"x": {"datum": 587, "type": "quantitative", "axis": null}, "y": {"datum": 40.0, "type": "quantitative", "axis": null}, "text": {"field": "p2"}}},
    {"transform": [{"filter": "datum.k === 'i'"}],
     "mark": {"type": "text", "font": "Liberation Serif", "fontStyle": "italic", "fontSize": 13.5, "align": "right", "baseline": "middle", "color": "#222"},
     "encoding": {"x": {"datum": 787, "type": "quantitative", "axis": null}, "y": {"datum": 40.0, "type": "quantitative", "axis": null}, "text": {"field": "e2"}}}
  ]
}
}
